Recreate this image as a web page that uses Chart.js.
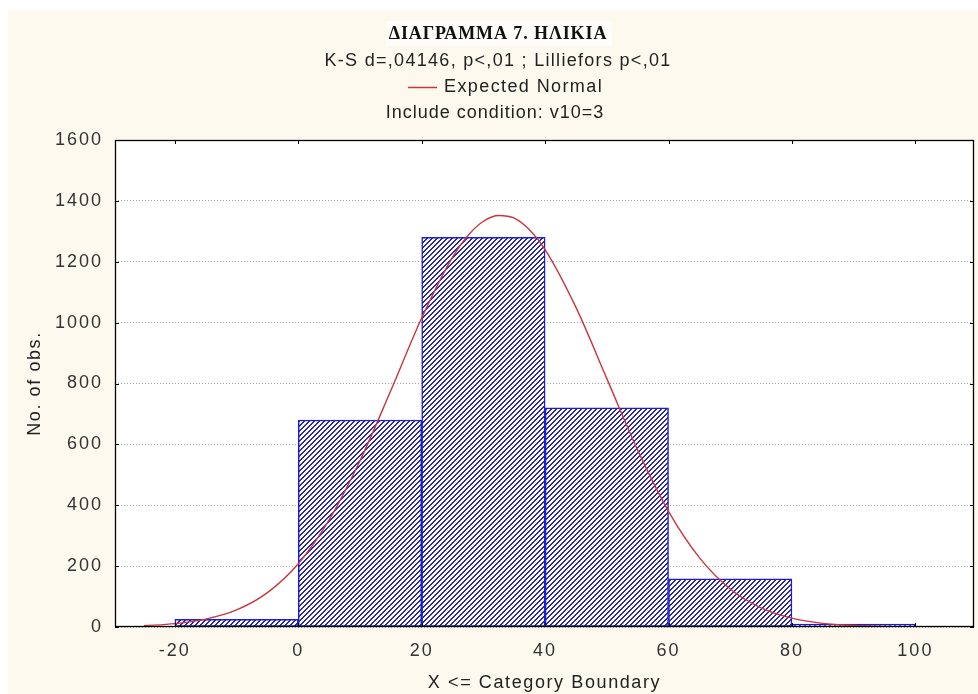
<!DOCTYPE html>
<html>
<head>
<meta charset="utf-8">
<title>ΔΙΑΓΡΑΜΜΑ 7. ΗΛΙΚΙΑ</title>
<script src="https://cdn.jsdelivr.net/npm/chart.js@4.4.1/dist/chart.umd.min.js"></script>
<style>
  html, body { margin: 0; padding: 0; background: #ffffff; }
  #c { display: block; width: 978px; height: 694px; }
</style>
</head>
<body>
<canvas id="c" width="978" height="694"></canvas>
<script>
// Histogram of ages: each bin is "X <= upper boundary", bins are 20 wide
const binUpper = [0, 20, 40, 60, 80, 100];
const binWidth = 20;
const counts = [25, 680, 1280, 720, 158, 10];

// Expected normal curve, scaled to counts per bin
const normalX = [-25, -20, -15, -10, -5, 0, 5, 10, 15, 20, 25, 27.5, 30, 32.5, 35, 37.5, 40, 45, 50, 55, 60, 65, 70, 75, 80, 85, 90, 95, 100];
const normalY = [4, 11, 26, 56, 113, 208, 352, 546, 777, 1015, 1215, 1286, 1333, 1352, 1343, 1304, 1240, 1050, 816, 581, 380, 228, 125, 63, 29, 12, 5, 2, 1];

// Axis ticks
const xTicks = [-20, 0, 20, 40, 60, 80, 100];
const yTicks = [0, 200, 400, 600, 800, 1000, 1200, 1400, 1600];

const titleText = 'ΔΙΑΓΡΑΜΜΑ 7. ΗΛΙΚΙΑ';
const statsText = 'K-S d=,04146, p<,01 ; Lilliefors p<,01';
const legendText = 'Expected Normal';
const conditionText = 'Include condition: v10=3';
const xTitle = 'X <= Category Boundary';
const yTitle = 'No. of obs.';

const canvas = document.getElementById('c');
const ctx = canvas.getContext('2d');

// Diagonal hatch fill for the bars: pixel stripes rising to the right
function makeHatch() {
  const s = 5;
  const p = document.createElement('canvas');
  p.width = s; p.height = s;
  const g = p.getContext('2d');
  g.fillStyle = '#ffffff';
  g.fillRect(0, 0, s, s);
  g.fillStyle = '#2a2aa2';
  for (let row = 0; row < s; row++) {
    const col = s - 1 - row;
    g.fillRect(col, row, 1, 1);
    g.fillRect((col + 1) % s, row, 1, 1);
  }
  return ctx.createPattern(p, 'repeat');
}

const TXT = '#222222';
const SANS = '"Liberation Sans", Arial, sans-serif';

const framePlugin = {
  id: 'frame',
  beforeDraw(chart) {
    const c = chart.ctx, a = chart.chartArea;
    c.save();
    c.fillStyle = '#ffffff';
    c.fillRect(0, 0, chart.width, chart.height);
    c.fillStyle = '#fdf9ef';
    c.fillRect(8, 10, chart.width - 8, chart.height - 10);
    c.fillStyle = '#ffffff';
    c.fillRect(a.left, a.top, a.right - a.left, a.bottom - a.top);
    c.restore();
    // spacing used by the axis tick labels
    c.letterSpacing = '2px';
  },
  afterDraw(chart) {
    const c = chart.ctx, a = chart.chartArea;
    const xs = chart.scales.x, ys = chart.scales.y;
    c.save();
    c.letterSpacing = '0px';
    // plot frame
    c.strokeStyle = '#000000';
    c.lineWidth = 1.3;
    c.strokeRect(a.left + 0.5, a.top + 0.5, a.right - a.left - 1, a.bottom - a.top - 1);
    // inward tick marks
    c.lineWidth = 1;
    c.beginPath();
    yTicks.forEach(v => {
      const y = Math.round(ys.getPixelForValue(v)) + 0.5;
      c.moveTo(a.left, y); c.lineTo(a.left + 4, y);
      c.moveTo(a.right - 4, y); c.lineTo(a.right, y);
    });
    xTicks.forEach(v => {
      const x = Math.round(xs.getPixelForValue(v)) + 0.5;
      c.moveTo(x, a.top); c.lineTo(x, a.top + 4);
      c.moveTo(x, a.bottom - 4); c.lineTo(x, a.bottom);
    });
    c.stroke();

    c.textBaseline = 'middle';
    // title on its own light box
    c.fillStyle = '#fffdf9';
    c.fillRect(386, 21, 226, 25);
    c.fillStyle = '#111111';
    c.font = 'bold 18px "Liberation Serif", "Times New Roman", serif';
    c.letterSpacing = '0.9px';
    c.textAlign = 'center';
    c.fillText(titleText, 498, 34);

    c.fillStyle = TXT;
    c.font = '18px ' + SANS;
    c.letterSpacing = '1.3px';
    c.fillText(statsText, 498, 61);
    c.letterSpacing = '1px';
    c.fillText(conditionText, 495, 113);

    // legend entry
    c.strokeStyle = '#c8373c';
    c.lineWidth = 1.5;
    c.beginPath();
    c.moveTo(408, 87.5); c.lineTo(437, 87.5);
    c.stroke();
    c.textAlign = 'left';
    c.letterSpacing = '1.4px';
    c.fillText(legendText, 444, 87);

    // axis titles
    c.textAlign = 'center';
    c.letterSpacing = '1.6px';
    c.fillText(xTitle, (a.left + a.right) / 2, 683);
    c.save();
    c.translate(35, (a.top + a.bottom) / 2);
    c.rotate(-Math.PI / 2);
    c.fillText(yTitle, 0, 0);
    c.restore();
    c.restore();
  }
};

new Chart(ctx, {
  type: 'line',
  data: {
    datasets: [
      {
        type: 'line',
        label: legendText,
        data: normalX.map((x, i) => ({ x: x, y: normalY[i] })),
        borderColor: '#c8373c',
        borderWidth: 1.4,
        pointRadius: 0,
        fill: false,
        cubicInterpolationMode: 'monotone',
        order: 0
      },
      {
        type: 'bar',
        label: 'No. of obs.',
        data: binUpper.map((u, i) => ({ x: u - binWidth / 2, y: counts[i] })),
        backgroundColor: makeHatch(),
        borderColor: '#1c1cd0',
        borderWidth: 1.5,
        borderSkipped: false,
        barPercentage: 1,
        categoryPercentage: 1,
        order: 1
      }
    ]
  },
  options: {
    responsive: false,
    animation: false,
    layout: { padding: { left: 0, right: 4, top: 140, bottom: 0 } },
    plugins: {
      legend: { display: false },
      title: { display: false },
      tooltip: { enabled: false }
    },
    scales: {
      x: {
        type: 'linear',
        min: -29.7,
        max: 109.5,
        offset: false,
        afterBuildTicks: s => { s.ticks = xTicks.map(v => ({ value: v })); },
        afterFit: s => { s.height = 67; },
        grid: { display: false, drawTicks: false },
        border: { display: false },
        ticks: {
          padding: 13,
          maxRotation: 0,
          color: '#333333',
          font: { family: SANS, size: 18 },
          callback: v => String(v)
        }
      },
      y: {
        type: 'linear',
        min: 0,
        max: 1600,
        afterBuildTicks: s => { s.ticks = yTicks.map(v => ({ value: v })); },
        afterFit: s => { s.width = 115; },
        grid: { color: '#a8a8a8', lineWidth: 1, drawTicks: false },
        border: { display: false, dash: [1, 2] },
        ticks: {
          padding: 12,
          color: '#333333',
          font: { family: SANS, size: 18 },
          callback: v => String(v)
        }
      }
    }
  },
  plugins: [framePlugin]
});
</script>
</body>
</html>
